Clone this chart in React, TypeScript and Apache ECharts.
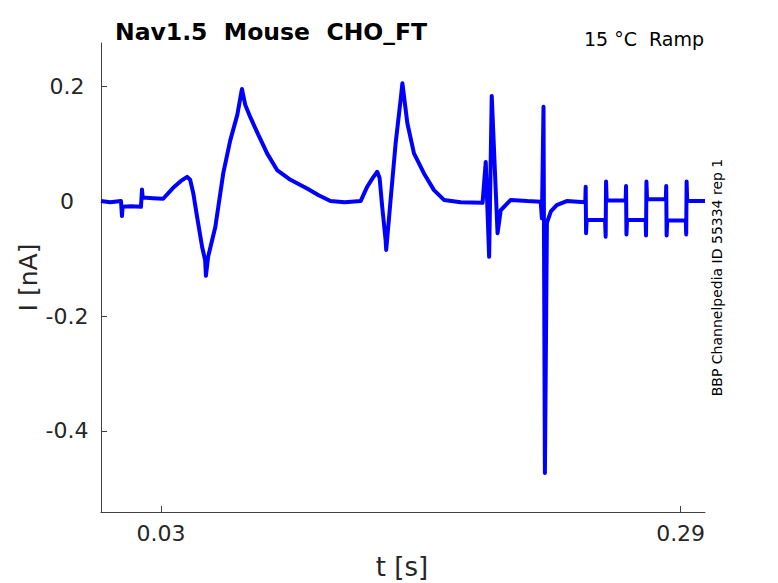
import React, { useEffect, useRef } from "react";
import * as echarts from "echarts";

// time [s]
const TIME = [
  0, 0.0045, 0.01, 0.0105, 0.0108, 0.015, 0.02, 0.0205, 0.0209, 0.026,
  0.0311, 0.0361, 0.04, 0.0431, 0.0446, 0.0461, 0.0481, 0.0506, 0.0521, 0.0525,
  0.0536, 0.0572, 0.0612, 0.0647, 0.0682, 0.0705, 0.0722, 0.0747, 0.0781, 0.0831,
  0.0881, 0.0948, 0.1031, 0.1089, 0.1148, 0.122, 0.1299, 0.1332, 0.1359, 0.1382,
  0.1394, 0.1407, 0.1424, 0.1427, 0.1449, 0.1474, 0.1499, 0.1508, 0.1533, 0.1566,
  0.1616, 0.1666, 0.1716, 0.18, 0.1909, 0.1925, 0.1942, 0.1955, 0.1984, 0.2,
  0.205, 0.2134, 0.22, 0.2206, 0.2214, 0.2221, 0.2231, 0.2251, 0.228, 0.233,
  0.2423, 0.2425, 0.2427, 0.243, 0.2522, 0.2525, 0.2527, 0.253, 0.2625, 0.2627,
  0.2629, 0.2632, 0.2725, 0.2727, 0.2729, 0.2732, 0.2826, 0.2828, 0.283, 0.2833,
  0.2926, 0.2928, 0.293, 0.2933, 0.3022,
];

// current [nA]
const CURRENT = [
  0.0, -0.002, 0.0, -0.026, -0.01, -0.009, -0.01, 0.02, 0.006, 0.005,
  0.004, 0.023, 0.035, 0.042, 0.037, 0.015, -0.028, -0.08, -0.103, -0.13,
  -0.097, -0.045, 0.049, 0.106, 0.15, 0.195, 0.167, 0.146, 0.12, 0.083,
  0.054, 0.037, 0.022, 0.01, 0.0, -0.002, 0.0, 0.025, 0.04, 0.051,
  0.04, -0.01, -0.068, -0.085, 0.002, 0.1, 0.176, 0.205, 0.135, 0.083,
  0.048, 0.019, 0.002, -0.002, -0.003, 0.068, -0.097, 0.183, -0.056, -0.016,
  0.002, 0.0, -0.001, -0.03, 0.164, -0.473, -0.038, -0.018, -0.007, 0.0,
  -0.002, 0.025, -0.056, -0.033, -0.033, -0.062, 0.034, 0.001, 0.001, 0.026,
  -0.058, -0.033, -0.033, -0.06, 0.034, 0.003, 0.003, 0.026, -0.06, -0.034,
  -0.034, -0.058, 0.034, 0.0, 0.0,
];

const X_TICKS = [0.03, 0.29];
const Y_TICKS = [-0.4, -0.2, 0, 0.2];

const TITLE = "Nav1.5  Mouse  CHO_FT";
const SUBTITLE = "15 °C  Ramp";
const SIDE_NOTE = "BBP Channelpedia ID 55334 rep 1";
const X_NAME = "t [s]";
const Y_NAME = "I [nA]";

const FONT = "DejaVu Sans";
const TEXT_COLOR = "#262626";
const AXIS_COLOR = "#404040";

export default function App() {
  const ref = useRef<HTMLDivElement>(null);

  useEffect(() => {
    if (!ref.current) return;
    const chart = echarts.init(ref.current, undefined, { renderer: "svg" });
    const data = TIME.map((t, i) => [t, CURRENT[i]]);

    chart.setOption({
      animation: false,
      backgroundColor: "#ffffff",
      textStyle: { fontFamily: FONT },
      grid: { left: 101, right: 73, top: 43, bottom: 71 },
      xAxis: {
        type: "value",
        min: 0,
        max: 0.3022,
        axisLine: { show: true, onZero: false, lineStyle: { color: AXIS_COLOR, width: 1 } },
        axisTick: { show: true, inside: true, length: 6, customValues: X_TICKS, lineStyle: { color: AXIS_COLOR } },
        axisLabel: {
          customValues: X_TICKS,
          margin: 10,
          fontSize: 22,
          color: TEXT_COLOR,
          fontFamily: FONT,
          formatter: (v: number) => String(v),
        },
        splitLine: { show: false },
      },
      yAxis: {
        type: "value",
        min: -0.541,
        max: 0.275,
        axisLine: { show: true, onZero: false, lineStyle: { color: AXIS_COLOR, width: 1 } },
        axisTick: { show: true, inside: true, length: 6, customValues: Y_TICKS, lineStyle: { color: AXIS_COLOR } },
        axisLabel: {
          customValues: Y_TICKS,
          margin: 34,
          align: "center",
          fontSize: 22,
          color: TEXT_COLOR,
          fontFamily: FONT,
          formatter: (v: number) => String(Math.round(v * 10) / 10),
        },
        splitLine: { show: false },
      },
      series: [
        {
          type: "line",
          data,
          showSymbol: false,
          silent: true,
          clip: true,
          lineStyle: { color: "#0000ff", width: 4, join: "round" },
        },
      ],
      graphic: [
        {
          type: "text",
          left: 115,
          top: 20,
          style: { text: TITLE, fontSize: 23.5, fontWeight: "bold", fontFamily: FONT, fill: "#000000" },
        },
        {
          type: "text",
          right: 74,
          top: 29,
          style: { text: SUBTITLE, fontSize: 19, fontFamily: FONT, fill: "#000000" },
        },
        {
          type: "text",
          x: 717,
          y: 277.5,
          rotation: Math.PI / 2,
          style: {
            text: SIDE_NOTE,
            fontSize: 14,
            fontFamily: FONT,
            fill: "#000000",
            align: "center",
            verticalAlign: "middle",
          },
        },
        {
          type: "text",
          x: 402,
          y: 567,
          style: {
            text: X_NAME,
            fontSize: 26,
            fontFamily: FONT,
            fill: TEXT_COLOR,
            align: "center",
            verticalAlign: "middle",
          },
        },
        {
          type: "text",
          x: 28,
          y: 277.5,
          rotation: Math.PI / 2,
          style: {
            text: Y_NAME,
            fontSize: 25,
            fontFamily: FONT,
            fill: TEXT_COLOR,
            align: "center",
            verticalAlign: "middle",
          },
        },
      ],
    });

    return () => chart.dispose();
  }, []);

  return (
    <div
      ref={ref}
      style={{ position: "absolute", left: 0, top: 0, width: 778, height: 583 }}
    />
  );
}
